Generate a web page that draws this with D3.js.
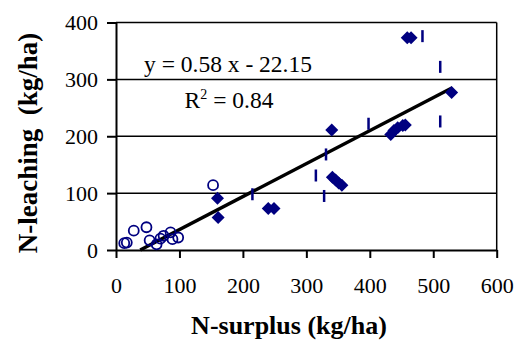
<!DOCTYPE html>
<html>
<head>
<meta charset="utf-8">
<script src="https://cdn.jsdelivr.net/npm/d3@7"></script>
<style>
  body { margin: 0; background: #fff; }
  svg { display: block; font-family: "Liberation Serif", "Times New Roman", serif; }
</style>
</head>
<body>
<div class="wrapper-chart"></div>
<script>
// open circles
const circleX = [13, 17, 28, 48, 53, 64, 70, 75, 86, 89, 98, 153];
const circleY = [12, 13, 34, 40, 17, 10, 20, 25, 31, 19, 22, 114];
// filled diamonds
const diamondX = [160, 161, 240, 249, 340, 341, 346, 351, 356, 433, 438, 444, 452, 456, 459, 465, 529];
const diamondY = [91, 57, 73, 73, 211, 128, 123, 118, 114, 203, 210, 215, 219, 220, 373, 373, 277];
// dash markers
const dashX = [215, 315, 328, 331, 398, 483, 511, 511];
const dashY = [98, 131, 95, 168, 222, 376, 322, 226];

const xTicks = [0, 100, 200, 300, 400, 500, 600];
const yTicks = [0, 100, 200, 300, 400];
const slope = 0.58, intercept = -22.15;
const fitRange = [38.2, 530];

const width = 514, height = 340;
const margin = {top: 22.5, right: 17.3, bottom: 90, left: 116};
const navy = "#000080";

const svg = d3.select(".wrapper-chart")
              .append("svg")
              .attr("width", width)
              .attr("height", height);

const x = d3.scaleLinear().domain([0, 600]).range([margin.left, width - margin.right]);
const y = d3.scaleLinear().domain([0, 400]).range([height - margin.bottom, margin.top]);

// gridlines
svg.append("g")
   .selectAll("line")
   .data(yTicks.slice(1))
   .join("line")
   .attr("x1", x(0)).attr("x2", x(600))
   .attr("y1", d => y(d)).attr("y2", d => y(d))
   .attr("stroke", "#000").attr("stroke-width", 1.5);

// right border
svg.append("line")
   .attr("x1", x(600)).attr("x2", x(600))
   .attr("y1", y(400)).attr("y2", y(0))
   .attr("stroke", "#000").attr("stroke-width", 1.5);

// axes
const xAxis = d3.axisBottom(x).tickValues(xTicks).tickSize(8).tickPadding(19).tickSizeOuter(0);
const yAxis = d3.axisLeft(y).tickValues(yTicks).tickSize(9).tickPadding(9).tickSizeOuter(0);

const gx = svg.append("g")
   .attr("transform", "translate(0," + y(0) + ")")
   .call(xAxis);
const gy = svg.append("g")
   .attr("transform", "translate(" + x(0) + ",0)")
   .call(yAxis);

[gx, gy].forEach(g => {
  g.select(".domain").attr("stroke", "#000").attr("stroke-width", 2);
  g.selectAll(".tick line").attr("stroke", "#000").attr("stroke-width", 2);
  g.selectAll(".tick text")
   .attr("fill", "#000")
   .style("font-family", "Liberation Serif")
   .style("font-size", "22px");
});

// regression line
svg.append("line")
   .attr("x1", x(fitRange[0])).attr("y1", y(slope * fitRange[0] + intercept))
   .attr("x2", x(fitRange[1])).attr("y2", y(slope * fitRange[1] + intercept))
   .attr("stroke", "#000").attr("stroke-width", 3.5);

// circles
svg.append("g")
   .selectAll("circle")
   .data(circleX.map((d, i) => [d, circleY[i]]))
   .join("circle")
   .attr("cx", d => x(d[0])).attr("cy", d => y(d[1]))
   .attr("r", 5)
   .attr("fill", "none")
   .attr("stroke", navy)
   .attr("stroke-width", 1.8);

// diamonds
svg.append("g")
   .selectAll("path")
   .data(diamondX.map((d, i) => [d, diamondY[i]]))
   .join("path")
   .attr("d", "M0,-6.5L6.5,0L0,6.5L-6.5,0Z")
   .attr("transform", d => "translate(" + x(d[0]) + "," + y(d[1]) + ")")
   .attr("fill", navy);

// dashes
svg.append("g")
   .selectAll("rect")
   .data(dashX.map((d, i) => [d, dashY[i]]))
   .join("rect")
   .attr("x", d => x(d[0]) - 1.25).attr("y", d => y(d[1]) - 6)
   .attr("width", 2.5).attr("height", 12)
   .attr("fill", navy);

// equation text
svg.append("text")
   .attr("x", 228).attr("y", 72)
   .attr("text-anchor", "middle")
   .style("font-size", "23.5px")
   .text("y = 0.58 x - 22.15");
const r2 = svg.append("text")
   .attr("x", 229).attr("y", 108)
   .attr("text-anchor", "middle")
   .style("font-size", "23.5px");
r2.append("tspan").text("R");
r2.append("tspan").attr("dy", -9).style("font-size", "14px").text("2");
r2.append("tspan").attr("dy", 9).text(" = 0.84");

// axis titles
svg.append("text")
   .attr("x", 289).attr("y", 334)
   .attr("text-anchor", "middle")
   .style("font-size", "26px")
   .style("font-weight", "bold")
   .text("N-surplus (kg/ha)");

svg.append("text")
   .attr("transform", "translate(37,143) rotate(-90)")
   .attr("text-anchor", "middle")
   .style("font-size", "27px")
   .style("font-weight", "bold")
   .text("N-leaching\u00a0 (kg/ha)");
</script>
</body>
</html>
